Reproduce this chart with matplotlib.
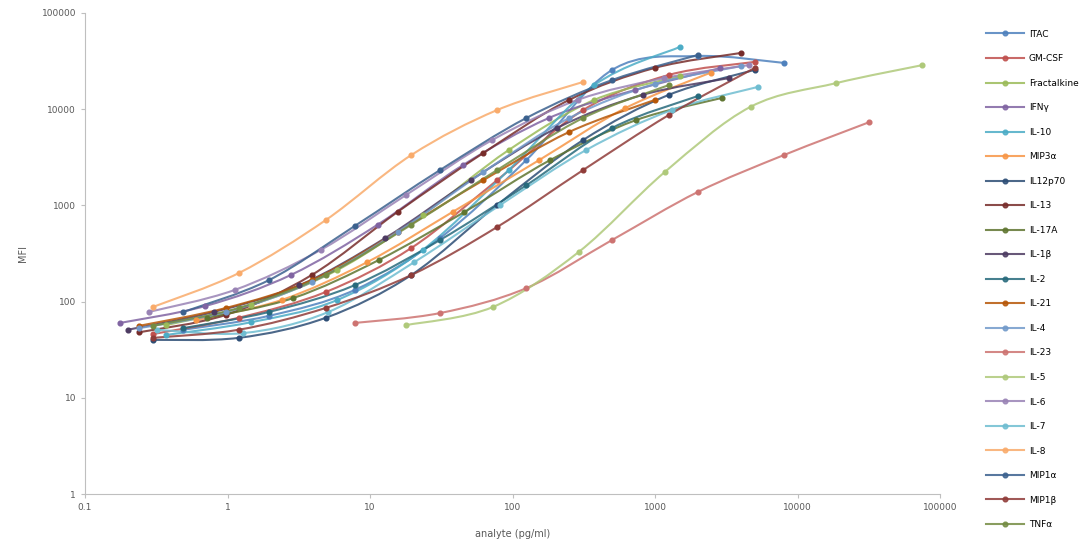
import numpy as np
import matplotlib
matplotlib.use("Agg")
import matplotlib.pyplot as plt
from matplotlib.path import Path
from matplotlib.patches import PathPatch
from matplotlib.lines import Line2D

plt.rcParams['font.family'] = ['DejaVu Sans']

labels = ["ITAC", "GM-CSF", "Fractalkine", "IFNγ", "IL-10", "MIP3α", "IL12p70",
          "IL-13", "IL-17A", "IL-1β", "IL-2", "IL-21", "IL-4", "IL-23", "IL-5",
          "IL-6", "IL-7", "IL-8", "MIP1α", "MIP1β", "TNFα"]

colors = ["#4F81BD", "#C0504D", "#9BBB59", "#8064A2", "#4BACC6", "#F79646",
          "#2C4D75", "#772C2A", "#5F7530", "#4D3B62", "#276A7C", "#B65708",
          "#729ACA", "#CD7371", "#AFC97A", "#9983B5", "#6FBDD1", "#F9AB6B",
          "#3B618E", "#903C39", "#748C43"]

# analyte concentrations (pg/ml) per series
x_itac = [0.49, 1.95, 7.8, 31, 125, 500, 2000, 8000]
x_gmcsf = [0.3, 1.2, 4.9, 19.5, 78, 313, 1250, 5000]
x_fkn = [0.37, 1.46, 5.9, 23.4, 94, 375, 1500]
x_ifng = [0.176, 0.70, 2.8, 11.3, 45, 180, 720, 2880]
x_il10 = [0.37, 1.46, 5.9, 23.4, 94, 375, 1500]
x_mip3a = [0.6, 2.4, 9.6, 38, 154, 614, 2460]
x_il12 = [0.3, 1.2, 4.9, 19.5, 78, 313, 1250, 5000]
x_il13 = [0.24, 0.98, 3.9, 15.6, 62.5, 250, 1000, 4000]
x_il17 = [0.72, 2.9, 11.5, 46, 184, 737, 2950]
x_il1b = [0.2, 0.8, 3.2, 12.8, 51, 205, 820, 3280]
x_il2 = [0.49, 1.95, 7.8, 31, 125, 500, 2000]
x_il21 = [0.24, 0.98, 3.9, 15.6, 62.5, 250, 1000]
x_il4 = [0.24, 0.98, 3.9, 15.6, 62.5, 250, 1000, 4000]
x_il23 = [7.8, 31, 125, 500, 2000, 8000, 32000]
x_il5 = [18, 73, 293, 1170, 4690, 18750, 75000]
x_il6 = [0.28, 1.12, 4.5, 18, 72, 287, 1150, 4600]
x_il7 = [0.32, 1.28, 5.1, 20.5, 82, 328, 1310, 5240]
x_il8 = [0.3, 1.2, 4.9, 19.5, 78, 313]
x_mip1a = [0.49, 1.95, 7.8, 31, 125, 500, 2000]
x_mip1b = [0.3, 1.2, 4.9, 19.5, 78, 313, 1250, 5000]
x_tnfa = [0.3, 1.2, 4.9, 19.5, 78, 313, 1250]

# MFI per series
y_itac = [51, 71, 132, 458, 2960, 25600, 35700, 30300]
y_gmcsf = [46, 68, 126, 361, 1830, 9800, 22700, 31000]
y_fkn = [57, 92, 213, 800, 3760, 12500, 22100]
y_ifng = [60, 90, 190, 630, 2630, 8100, 15800, 26800]
y_il10 = [45, 61, 104, 344, 2330, 17800, 44500]
y_mip3a = [64, 104, 258, 855, 2960, 10200, 24000]
y_il12 = [40, 42, 68, 189, 1010, 4780, 14100, 25600]
y_il13 = [48, 73, 189, 855, 3510, 12500, 26900, 38400]
y_il17 = [68, 109, 270, 855, 2960, 7710, 13100]
y_il1b = [51, 78, 148, 458, 1830, 6380, 14100, 21000]
y_il2 = [53, 78, 148, 437, 1620, 6380, 13700]
y_il21 = [56, 86, 167, 530, 1830, 5800, 12500]
y_il4 = [53, 78, 160, 530, 2220, 8100, 18300, 28000]
y_il23 = [60, 76, 138, 437, 1380, 3330, 7350]
y_il5 = [57, 88, 330, 2220, 10600, 18700, 28700]
y_il6 = [78, 132, 344, 1290, 4780, 12500, 21000, 28800]
y_il7 = [51, 47, 78, 258, 1010, 3760, 9800, 17000]
y_il8 = [88, 198, 705, 3340, 9800, 19200]
y_mip1a = [78, 167, 610, 2330, 8100, 20100, 36600]
y_mip1b = [42, 51, 86, 189, 596, 2330, 8700, 26800]
y_tnfa = [56, 86, 189, 630, 2330, 8100, 17800]

xs_all = [x_itac, x_gmcsf, x_fkn, x_ifng, x_il10, x_mip3a, x_il12, x_il13, x_il17,
          x_il1b, x_il2, x_il21, x_il4, x_il23, x_il5, x_il6, x_il7, x_il8,
          x_mip1a, x_mip1b, x_tnfa]
ys_all = [y_itac, y_gmcsf, y_fkn, y_ifng, y_il10, y_mip3a, y_il12, y_il13, y_il17,
          y_il1b, y_il2, y_il21, y_il4, y_il23, y_il5, y_il6, y_il7, y_il8,
          y_mip1a, y_mip1b, y_tnfa]

x_ticks = [0.1, 1, 10, 100, 1000, 10000, 100000]
x_ticklabels = ["0.1", "1", "10", "100", "1000", "10000", "100000"]
y_ticks = [1, 10, 100, 1000, 10000, 100000]
y_ticklabels = ["1", "10", "100", "1000", "10000", "100000"]


def smooth_path(xs, ys):
    """Excel-style smoothed line: Bezier segments through the points (log space)."""
    pts = np.column_stack([np.log10(xs), np.log10(ys)])
    n = len(pts)
    verts = [pts[0]]
    codes = [Path.MOVETO]
    for i in range(n - 1):
        p0 = pts[i - 1] if i > 0 else pts[i]
        p1 = pts[i]
        p2 = pts[i + 1]
        p3 = pts[i + 2] if i + 2 < n else pts[i + 1]
        c1 = p1 + (p2 - p0) / 6.0
        c2 = p2 - (p3 - p1) / 6.0
        verts += [c1, c2, p2]
        codes += [Path.CURVE4] * 3
    return Path(10 ** np.array(verts), codes)


fig = plt.figure(figsize=(10.8, 5.49), dpi=100)
ax = fig.add_axes([85 / 1080, 55 / 549, 855 / 1080, 481 / 549])
ax.set_xscale('log')
ax.set_yscale('log')
ax.set_xlim(0.1, 100000)
ax.set_ylim(1, 100000)

handles = []
for xs, ys, c, lab in zip(xs_all, ys_all, colors, labels):
    patch = PathPatch(smooth_path(xs, ys), facecolor='none', edgecolor=c, lw=1.5,
                      alpha=0.85, zorder=2)
    ax.add_patch(patch)
    ax.plot(xs, ys, linestyle='none', marker='o', ms=3.4, color=c, zorder=3)
    handles.append(Line2D([], [], color=c, lw=1.5, alpha=0.85, marker='o', ms=3.4))

ax.set_xticks(x_ticks)
ax.set_xticklabels(x_ticklabels)
ax.set_yticks(y_ticks)
ax.set_yticklabels(y_ticklabels)
ax.minorticks_off()
for s in ['top', 'right']:
    ax.spines[s].set_visible(False)
for s in ['left', 'bottom']:
    ax.spines[s].set_color('#BFBFBF')
    ax.spines[s].set_linewidth(0.8)
ax.tick_params(axis='both', colors='#BFBFBF', labelcolor='#595959', labelsize=6.5,
               length=3, width=0.8)
ax.set_xlabel("analyte (pg/ml)", fontsize=7, color='#595959', labelpad=12)
ax.set_ylabel("MFI", fontsize=7, color='#595959', labelpad=10)

fig.legend(handles, labels, loc='upper left', bbox_to_anchor=(982 / 1080, 1 - 26 / 549),
           frameon=False, fontsize=6.5, labelspacing=1.72, handlelength=4.3,
           handletextpad=0.5, borderaxespad=0)

fig.savefig("out.png", dpi=100)
